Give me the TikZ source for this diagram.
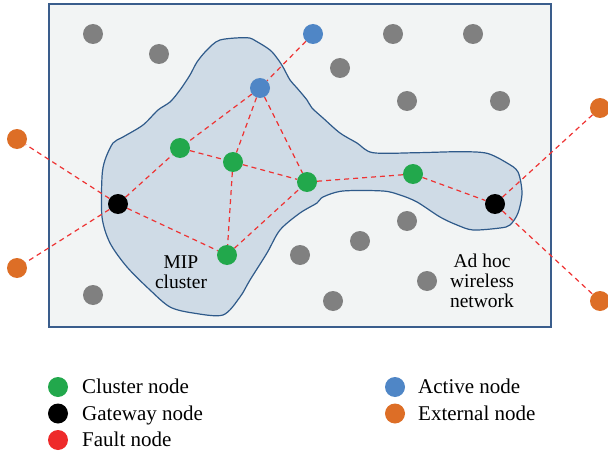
\documentclass[tikz,border=0pt]{standalone}
\usepackage{fontspec}
\setmainfont{Liberation Serif}
\definecolor{rectfill}{HTML}{F2F4F4}
\definecolor{rectline}{HTML}{3A5D8C}
\definecolor{blobfill}{HTML}{CFDBE6}
\definecolor{blobline}{HTML}{2F5A8A}
\definecolor{cgray}{HTML}{808080}
\definecolor{cblue}{HTML}{4F86C6}
\definecolor{cgreen}{HTML}{22A84C}
\definecolor{corange}{HTML}{DD6E26}
\definecolor{cred}{HTML}{EE2A2A}
\definecolor{cedge}{HTML}{EE3333}
\tikzset{
  dot/.style={circle,inner sep=0pt,minimum size=20pt,draw=none},
  graydot/.style={dot,fill=cgray},
  bluedot/.style={dot,fill=cblue},
  greendot/.style={dot,fill=cgreen},
  blackdot/.style={dot,fill=black},
  orangedot/.style={dot,fill=corange},
  reddot/.style={dot,fill=cred},
  edge/.style={draw=cedge,line width=1.2pt,dash pattern=on 5pt off 4pt},
  lbl/.style={font=\fontsize{19.5}{19.7}\selectfont,align=center,inner sep=0pt},
  legtext/.style={font=\fontsize{21}{24}\selectfont,anchor=base west,inner sep=0pt}
}
\begin{document}
\begin{tikzpicture}[x=1pt,y=-1pt]
\useasboundingbox (0,0) rectangle (608,452);
\draw[fill=rectfill,draw=rectline,line width=1.2pt] (49,4) rectangle (551,327);
\draw[fill=blobfill,draw=blobline,line width=1.2pt] plot[smooth cycle,tension=0.5] coordinates {
(220,40) (247,37.7) (257,41.7) (270,50) (277,58) (283,67) (290,80) (297,88) (307,100) (312,108) (323,118) (340,133) (357,143) (373,152.7) (417,152.7) (460,151.7) (487,153.3) (507,163) (518,172) (522,193) (518,213) (510,225) (500,228) (473,230) (457,225) (440,217) (417,202) (400,195) (383,191) (343,191) (323,197) (317,203) (300,213) (280,230) (267,253) (250,280) (240,297) (223,315) (193,313) (170,307) (150,290) (127,267) (110,243) (102,217) (102,177) (105,160) (113,143) (123,137) (143,125) (158,110) (170,102) (180,90) (190,75) (197,62) (207,50)};
% gray nodes
\node[graydot] (n1) at (93,34) {};
\node[graydot] (n2) at (159,54) {};
\node[graydot] (n3) at (340,68) {};
\node[graydot] (n4) at (393,34) {};
\node[graydot] (n5) at (473,34) {};
\node[graydot] (n6) at (407,101) {};
\node[graydot] (n7) at (500,101) {};
\node[graydot] (n8) at (407,221) {};
\node[graydot] (n9) at (360,241) {};
\node[graydot] (n10) at (300,255) {};
\node[graydot] (n11) at (427,281) {};
\node[graydot] (n12) at (333,301) {};
\node[graydot] (n13) at (93,295) {};
% cluster nodes
\node[bluedot] (b1) at (313,34) {};
\node[bluedot] (b2) at (260,88) {};
\node[greendot] (g1) at (180,148) {};
\node[greendot] (g2) at (233,162) {};
\node[greendot] (g3) at (307,182) {};
\node[greendot] (g4) at (227,255) {};
\node[greendot] (g5) at (413,174) {};
\node[blackdot] (k1) at (118,204) {};
\node[blackdot] (k2) at (495,204) {};
\node[orangedot] (o1) at (17,139) {};
\node[orangedot] (o2) at (17,268) {};
\node[orangedot] (o3) at (600,108) {};
\node[orangedot] (o4) at (600,301) {};
% edges
\begin{scope}[on background layer/.try]
\end{scope}
\foreach \a/\b in {b1/b2,b2/g1,b2/g2,b2/g3,k1/g1,g1/g2,g2/g3,g2/g4,k1/g4,g4/g3,g3/g5,g5/k2,k2/o3,k2/o4,k1/o1,k1/o2}
  \draw[edge] (\a) -- (\b);
% labels
\node[lbl] (mip) at (181,272) {MIP\\cluster};
\node[lbl] (adhoc) at (482,281) {Ad hoc\\wireless\\network};
% legend
\node[greendot] (lg1) at (58,387) {};
\node[blackdot] (lg2) at (58,413.5) {};
\node[reddot] (lg3) at (58,440) {};
\node[bluedot] (lg4) at (395,387) {};
\node[orangedot] (lg5) at (395,413.5) {};
\node[legtext] (t1) at (82,393.5) {Cluster node};
\node[legtext] (t2) at (82,420) {Gateway node};
\node[legtext] (t3) at (82,446.5) {Fault node};
\node[legtext] (t4) at (418,393.5) {Active node};
\node[legtext] (t5) at (418,420) {External node};
\end{tikzpicture}
\end{document}
